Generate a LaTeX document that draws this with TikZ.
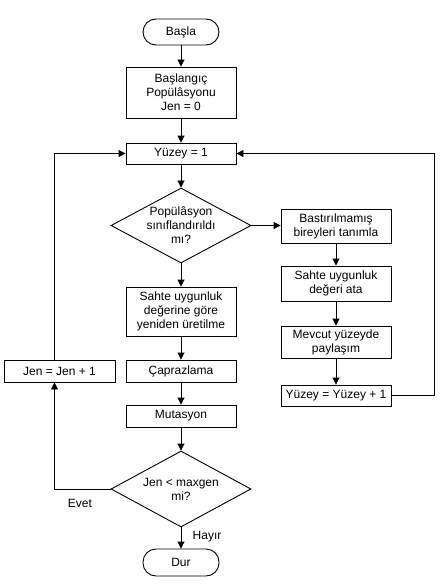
\documentclass[tikz,border=0pt]{standalone}
\usepackage{fontspec}
\setmainfont{Liberation Sans}
\usetikzlibrary{shapes.geometric,arrows.meta}
\begin{document}
\begin{tikzpicture}[x=1pt,y=-1pt,
  font=\fontsize{12}{14}\selectfont,
  box/.style={draw,line width=0.9pt,align=center,inner sep=0pt,minimum width=110pt},
  term/.style={draw,line width=0.9pt,rounded corners=13pt,minimum width=76pt,minimum height=26pt,inner sep=0pt},
  dec/.style={draw,diamond,line width=0.9pt,inner sep=0pt,minimum width=140pt,minimum height=75pt},
  dtext/.style={align=center,inner sep=0pt},
  arr/.style={line width=0.9pt,-{Triangle[length=7pt,width=7pt]}},
  lbl/.style={inner sep=0pt}]
\useasboundingbox (0,0) rectangle (439,586);
\node[term] (basla) at (181,32) {Başla};
\node[box,minimum height=51pt] (init) at (181,92.5) {Başlangıç\\Popülâsyonu\\Jen = 0};
\node[box,minimum height=21pt] (y1) at (181,153.5) {Yüzey = 1};
\node[dec] (d1) at (181,225.5) {};
\node[dtext] (d1t) at (d1.center) {Popülâsyon\\sınıflandırıldı\\mı?};
\node[box,minimum height=34pt] (bas) at (336,226) {Bastırılmamış\\bireyleri tanımla};
\node[box,minimum height=35pt] (sah) at (336,283.5) {Sahte uygunluk\\değeri ata};
\node[box,minimum height=32pt] (mev) at (336,342) {Mevcut yüzeyde\\paylaşım};
\node[box,minimum height=21pt] (yp) at (336,395.5) {Yüzey = Yüzey + 1};
\node[box,minimum height=49pt] (ure) at (181,311.5) {Sahte uygunluk\\değerine göre\\yeniden üretilme};
\node[box,minimum height=22pt] (cap) at (181,371) {Çaprazlama};
\node[box,minimum height=22pt,minimum width=111pt] (jen) at (59.5,371) {Jen = Jen + 1};
\node[box,minimum height=22pt] (mut) at (181,416) {Mutasyon};
\node[dec,minimum height=76pt] (d2) at (181,489) {};
\node[dtext] (d2t) at (d2.center) {Jen < maxgen\\mi?};
\node[term,minimum height=27pt] (dur) at (181,562.5) {Dur};
\node[lbl] (evet) at (80,503) {Evet};
\node[lbl] (hayir) at (207,537) {Hayır};
\coordinate (rx) at (434,0);
\coordinate (lx) at (54.5,0);
\draw[arr] (basla) -- (init);
\draw[arr] (init) -- (y1);
\draw[arr] (y1) -- (d1);
\draw[arr] (d1.east) -- (d1.east -| bas.west);
\draw[arr] (bas) -- (sah);
\draw[arr] (sah) -- (mev);
\draw[arr] (mev) -- (yp);
\draw[arr] (yp.east) -- (yp.east -| rx) |- (y1.east);
\draw[arr] (d1) -- (ure);
\draw[arr] (ure) -- (cap);
\draw[arr] (cap) -- (mut);
\draw[arr] (mut) -- (d2);
\draw[arr] (d2) -- (dur);
\draw[arr] (d2.west) -- (d2.west -| lx) -- (lx |- jen.south);
\draw[arr] (lx |- jen.north) |- (y1.west);
\end{tikzpicture}
\end{document}
